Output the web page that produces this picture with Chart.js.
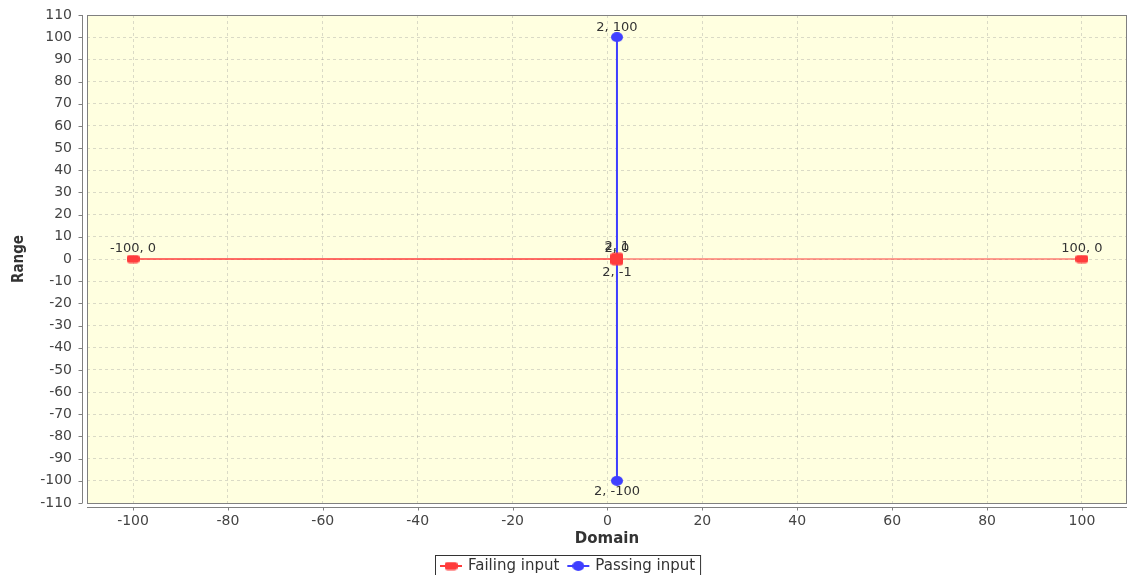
<!DOCTYPE html>
<html>
<head>
<meta charset="utf-8">
<title>Domain / Range</title>
<script src="https://cdn.jsdelivr.net/npm/chart.js@4.4.1/dist/chart.umd.min.js"></script>
<style>
  html, body { margin: 0; padding: 0; background: #fff; }
  #wrap { width: 1128px; height: 575px; position: relative; }
</style>
</head>
<body>
<div id="wrap"><canvas id="chartDomain"></canvas></div>
<script>
'use strict';

// --- datos ---
const seriesNames = ['Failing input', 'Passing input'];
const failX = [2, 2, 2, -100, 100];
const failY = [1, -1, 0, 0, 0];
const passX = [2, 2];
const passY = [100, -100];
const xTicks = [-100, -80, -60, -40, -20, 0, 20, 40, 60, 80, 100];
const yTicks = [110, 100, 90, 80, 70, 60, 50, 40, 30, 20, 10, 0, -10, -20, -30, -40, -50, -60, -70, -80, -90, -100, -110];

const RED = '#ff3c3c';
const BLUE = '#3f3fff';

// marcadores tipo JFreeChart (rect redondeado / elipse)
function makeMarker(color, kind) {
  const c = document.createElement('canvas');
  c.width = kind === 'rect' ? 13 : 12;
  c.height = kind === 'rect' ? 9 : 10;
  const g = c.getContext('2d');
  g.fillStyle = color;
  g.beginPath();
  if (kind === 'rect') g.roundRect(0, 0.5, 13, 8, 3);
  else g.ellipse(6, 5, 6, 5, 0, 0, Math.PI * 2);
  g.fill();
  return c;
}
const redMark = makeMarker(RED, 'rect');
const blueMark = makeMarker(BLUE, 'ellipse');

const toPts = (xs, ys) => xs.map((x, i) => ({ x: x, y: ys[i] }));

// fondo del área de trazado
const plotBg = {
  id: 'plotBg',
  beforeDraw(chart) {
    const { ctx, chartArea: a } = chart;
    ctx.save();
    ctx.fillStyle = '#ffffe0';
    ctx.fillRect(a.left, a.top, a.right - a.left, a.bottom - a.top);
    ctx.restore();
  }
};

// ejes desplazados + borde del plot
const axesDeco = {
  id: 'axesDeco',
  afterDraw(chart) {
    const { ctx, chartArea: a, scales } = chart;
    ctx.save();
    ctx.strokeStyle = '#808080';
    ctx.lineWidth = 1;
    ctx.strokeRect(a.left + 0.5, a.top + 0.5, a.right - a.left - 1, a.bottom - a.top);
    // eje Y
    const ax = a.left - 4.5;
    ctx.beginPath();
    ctx.moveTo(ax, a.top);
    ctx.lineTo(ax, a.bottom);
    yTicks.forEach(v => {
      const py = Math.round(scales.y.getPixelForValue(v)) + 0.5;
      ctx.moveTo(ax, py);
      ctx.lineTo(ax - 4, py);
    });
    // eje X
    const ay = a.bottom + 4.5;
    ctx.moveTo(a.left, ay);
    ctx.lineTo(a.right, ay);
    xTicks.forEach(v => {
      const px = Math.round(scales.x.getPixelForValue(v)) + 0.5;
      ctx.moveTo(px, ay);
      ctx.lineTo(px, ay + 3);
    });
    ctx.stroke();
    ctx.restore();
  }
};

// etiquetas "x, y" en cada punto
const pointLabels = {
  id: 'pointLabels',
  afterDatasetsDraw(chart) {
    const { ctx } = chart;
    ctx.save();
    ctx.font = '13px "DejaVu Sans", sans-serif';
    ctx.fillStyle = '#333';
    ctx.textAlign = 'center';
    ctx.textBaseline = 'middle';
    chart.data.datasets.forEach((ds, di) => {
      chart.getDatasetMeta(di).data.forEach((el, i) => {
        const p = ds.data[i];
        const dy = p.y < 0 ? 11 : -10;
        ctx.fillText(p.x + ', ' + p.y, el.x, el.y + dy);
      });
    });
    ctx.restore();
  }
};

// leyenda con recuadro, estilo JFreeChart
const boxLegend = {
  id: 'boxLegend',
  afterDraw(chart) {
    const { ctx } = chart;
    ctx.save();
    ctx.font = '15px "DejaVu Sans", sans-serif';
    ctx.textBaseline = 'middle';
    const items = chart.data.datasets.map(ds => ({ label: ds.label, color: ds.borderColor, mark: ds.pointStyle }));
    const symW = 22, gap = 6, sep = 8, padX = 5;
    let total = padX * 2;
    items.forEach((it, i) => {
      it.w = ctx.measureText(it.label).width;
      total += symW + gap + it.w + (i < items.length - 1 ? sep : 0);
    });
    const left = Math.round(chart.width / 2 + 4 - total / 2);
    const top = 555, cy = 566;
    ctx.strokeStyle = '#333';
    ctx.lineWidth = 1;
    ctx.strokeRect(left + 0.5, top + 0.5, total, 24);
    let x = left + padX;
    items.forEach(it => {
      ctx.strokeStyle = it.color;
      ctx.lineWidth = 2;
      ctx.beginPath();
      ctx.moveTo(x, cy);
      ctx.lineTo(x + symW, cy);
      ctx.stroke();
      ctx.drawImage(it.mark, x + symW / 2 - it.mark.width / 2, cy - it.mark.height / 2);
      x += symW + gap;
      ctx.fillStyle = '#333';
      ctx.fillText(it.label, x, cy);
      x += it.w + sep;
    });
    ctx.restore();
  }
};

const tickFont = { family: '"DejaVu Sans", sans-serif', size: 14 };
const gridColor = 'rgba(150, 150, 150, 0.35)';

new Chart(document.getElementById('chartDomain').getContext('2d'), {
  type: 'scatter',
  data: {
    datasets: [{
      label: seriesNames[0],
      data: toPts(failX, failY),
      showLine: true,
      borderColor: RED,
      backgroundColor: RED,
      borderWidth: 1,
      pointStyle: redMark,
      pointRadius: 6
    }, {
      label: seriesNames[1],
      data: toPts(passX, passY),
      showLine: true,
      borderColor: BLUE,
      backgroundColor: BLUE,
      borderWidth: 2,
      pointStyle: blueMark,
      pointRadius: 6
    }]
  },
  options: {
    responsive: true,
    maintainAspectRatio: false,
    animation: false,
    layout: { autoPadding: false, padding: { top: 15, right: 1, bottom: 0, left: 0 } },
    plugins: {
      legend: { display: false },
      tooltip: { enabled: false }
    },
    scales: {
      x: {
        type: 'linear',
        min: -109.7,
        max: 109.5,
        afterBuildTicks: s => { s.ticks = xTicks.map(v => ({ value: v })); },
        afterFit: s => { s.height = 72; s.paddingLeft = 0; s.paddingRight = 0; },
        grid: { color: gridColor, tickColor: 'transparent', tickLength: 8 },
        border: { display: false, dash: [3, 3] },
        ticks: { color: '#444', font: tickFont, padding: 2, maxRotation: 0, autoSkip: false },
        title: {
          display: true,
          text: 'Domain',
          color: '#333',
          font: { family: '"DejaVu Sans", sans-serif', size: 15, weight: 'bold' },
          padding: { top: 0, bottom: 27 }
        }
      },
      y: {
        type: 'linear',
        min: -110,
        max: 110,
        afterBuildTicks: s => { s.ticks = yTicks.map(v => ({ value: v })); },
        afterFit: s => { s.width = 87; s.paddingTop = 0; s.paddingBottom = 0; },
        grid: { color: gridColor, tickColor: 'transparent', tickLength: 12 },
        border: { display: false, dash: [3, 3] },
        ticks: { color: '#444', font: tickFont, padding: 3, autoSkip: false },
        title: {
          display: true,
          text: 'Range',
          color: '#333',
          font: { family: '"DejaVu Sans Condensed", "DejaVu Sans", sans-serif', size: 15, weight: 'bold' },
          padding: { top: 10, bottom: 0 }
        }
      }
    }
  },
  plugins: [plotBg, axesDeco, pointLabels, boxLegend]
});
</script>
</body>
</html>
